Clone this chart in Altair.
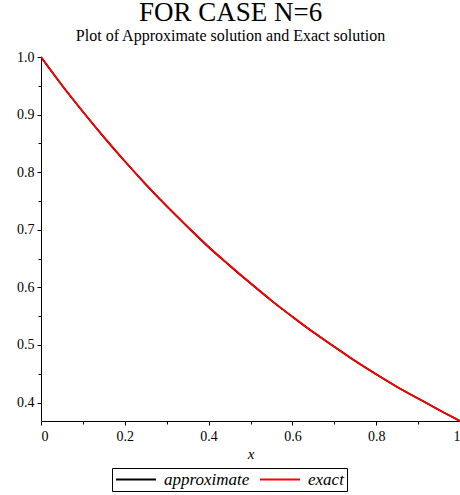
import altair as alt
import pandas as pd

x_vals = [0.0, 0.05, 0.1, 0.15, 0.2, 0.25, 0.3, 0.35, 0.4, 0.45, 0.5,
          0.55, 0.6, 0.65, 0.7, 0.75, 0.8, 0.85, 0.9, 0.95, 1.0]
approx_vals = [1.0, 0.951, 0.905, 0.861, 0.819, 0.779, 0.741, 0.705, 0.670, 0.638, 0.607,
               0.577, 0.549, 0.522, 0.497, 0.472, 0.449, 0.427, 0.407, 0.387, 0.368]
exact_vals = [1.0, 0.951, 0.905, 0.861, 0.819, 0.779, 0.741, 0.705, 0.670, 0.638, 0.607,
              0.577, 0.549, 0.522, 0.497, 0.472, 0.449, 0.427, 0.407, 0.387, 0.368]
series_names = ["approximate", "exact"]
series_colors = ["#000000", "#ff0000"]

x_major = [0, 0.2, 0.4, 0.6, 0.8, 1.0]
x_minor = [0.1, 0.3, 0.5, 0.7, 0.9]
y_major = [0.4, 0.5, 0.6, 0.7, 0.8, 0.9, 1.0]
y_minor = [0.45, 0.55, 0.65, 0.75, 0.85, 0.95]

rows = []
for i, xv in enumerate(x_vals):
    rows.append({"x": xv, "y": approx_vals[i], "series": series_names[0], "order": 0})
for i, xv in enumerate(x_vals):
    rows.append({"x": xv, "y": exact_vals[i], "series": series_names[1], "order": 1})
df = pd.DataFrame(rows)

FONT = "Liberation Serif"
common = dict(labelFont=FONT, labelFontSize=14, labelColor="black", titleFont=FONT,
              titleFontSize=15, titleColor="black", domainColor="black", tickColor="black",
              grid=False)

xscale = alt.Scale(domain=[0, 1], nice=False, zero=False)
yscale = alt.Scale(domain=[0.3679, 1.0], nice=False, zero=False)

main = alt.Chart(df).mark_line(strokeWidth=1.8, interpolate="monotone").encode(
    x=alt.X("x:Q", scale=xscale, title="x",
            axis=alt.Axis(values=x_major, tickSize=4, labelPadding=4,
                          labelExpr="datum.value == 0 ? '0' : datum.value == 1 ? '1' : format(datum.value, '.1f')",
                          titleFontStyle="italic", titleFontWeight="normal", titlePadding=3,
                          **common)),
    y=alt.Y("y:Q", scale=yscale, title=None,
            axis=alt.Axis(values=y_major, format=".1f", tickSize=4, labelPadding=3,
                          orient="left", **common)),
    color=alt.Color("series:N", scale=alt.Scale(domain=series_names, range=series_colors),
                    legend=alt.Legend(title=None, orient="none", legendX=71, legendY=411,
                                      direction="horizontal", symbolType="stroke",
                                      symbolSize=1600, symbolStrokeWidth=2, clipHeight=17,
                                      labelFontStyle="italic", labelFontSize=17,
                                      labelFont=FONT, labelColor="black",
                                      strokeColor="black", padding=3,
                                      columnPadding=9, labelOffset=7)),
    order="order:Q",
)

minor = alt.Chart(df).mark_line(opacity=0).encode(
    x=alt.X("x:Q", scale=xscale, title=None,
            axis=alt.Axis(values=x_minor, tickSize=3, labels=False, domain=False,
                          orient="bottom", grid=False, tickColor="black")),
    y=alt.Y("y:Q", scale=yscale, title=None,
            axis=alt.Axis(values=y_minor, tickSize=3, labels=False, domain=False,
                          orient="left", grid=False, tickColor="black")),
)

chart = alt.layer(main, minor).resolve_axis(x="independent", y="independent").properties(
    width=419, height=364,
    background="white",
    autosize=alt.AutoSizeParams(type="none"),
    padding={"left": 41, "top": 57, "right": 0, "bottom": 74},
    title=alt.TitleParams(text="FOR CASE N=6", subtitle="Plot of Approximate solution and Exact solution",
                          font=FONT, fontSize=27, fontWeight="normal", color="black",
                          subtitleFont=FONT, subtitleFontSize=16, subtitleColor="black",
                          anchor="middle", dx=-20, offset=5, subtitlePadding=1),
).configure_view(stroke=None)

chart.save("out.html", embed_options={"renderer": "svg", "actions": False})
